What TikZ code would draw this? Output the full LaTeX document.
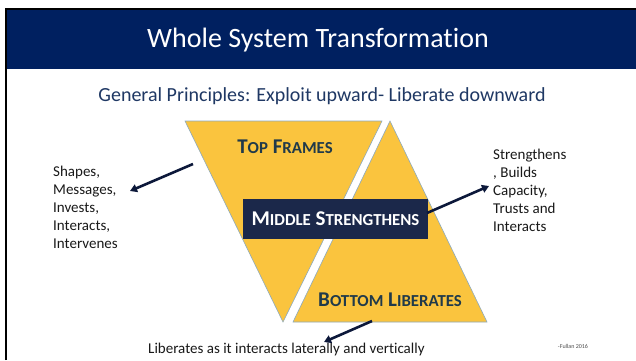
\documentclass[tikz,border=0pt]{standalone}
\usepackage{fontspec}
\setmainfont{Carlito}[Ligatures=CommonOff]
\usetikzlibrary{arrows.meta}

\definecolor{banner}{RGB}{0,32,96}
\definecolor{subblue}{RGB}{31,56,100}
\definecolor{gold}{RGB}{250,196,62}
\definecolor{goldedge}{RGB}{140,170,190}
\definecolor{boxnavy}{RGB}{27,40,74}
\definecolor{slate}{RGB}{32,58,74}
\definecolor{arrownavy}{RGB}{12,24,58}

% first letter full size, rest as reduced capitals
\newcommand{\capword}[2]{{\fontsize{21}{24}\selectfont #1}{\fontsize{16.8}{20}\selectfont #2}}

\tikzset{
  tri/.style={fill=gold, draw=goldedge, line width=0.6pt, line join=miter},
  label/.style={font=\fontsize{21}{24}\selectfont\bfseries, inner sep=0pt},
  sidetext/.style={font=\fontsize{15}{18}\selectfont, align=left, inner sep=0pt, text=black!90},
  pointer/.style={draw=arrownavy, line width=2.6pt, -{Triangle[length=7pt,width=8pt]}}
}

\begin{document}
\begin{tikzpicture}[x=1pt,y=-1pt]
\useasboundingbox (0,0) rectangle (636,360);
\fill[white] (0,0) rectangle (636,360);

% title banner with its dark frame line
\fill[banner] (6,9) rectangle (636,69);
\draw[black, line width=2pt] (6,360) -- (6,9) -- (636,9);
\node[text=white, font=\fontsize{28}{32}\selectfont, inner sep=0pt] (title) at (318,40) {Whole System Transformation};

\node[text=subblue, font=\fontsize{20}{23}\selectfont, inner sep=0pt] (subtitle) at (322,96) {General Principles: Exploit upward- Liberate downward};

% the two triangles
\draw[tri] (185,121) -- (382,121) -- (283,322) -- cycle;
\draw[tri] (390,121) -- (487,322) -- (293,322) -- cycle;

\node[label, text=slate] (top) at (285,147) {\capword{T}{OP} \capword{F}{RAMES}};
\node[label, text=slate] (bottom) at (390,300) {\capword{B}{OTTOM} \capword{L}{IBERATES}};

\node[fill=boxnavy, minimum width=185pt, minimum height=40pt, inner sep=0pt, text=white, label] (middle) at (335.5,219) {\capword{M}{IDDLE} \capword{S}{TRENGTHENS}};

% side descriptions
\node[sidetext, anchor=north west] (lefttext) at (53,166) {Shapes,\\Messages,\\Invests,\\Interacts,\\Intervenes};
\node[sidetext, anchor=north west] (righttext) at (493,149) {Strengthens\\, Builds\\Capacity,\\Trusts and\\Interacts};
\node[sidetext, anchor=west] (bottomtext) at (148,349) {Liberates as it interacts laterally and vertically};

\node[text=black!70, font=\fontsize{6}{7}\selectfont, inner sep=0pt] (credit) at (573,346) {-Fullan 2016};

% connectors
\coordinate (lstart) at (193,164);
\coordinate (lend) at (130,191);
\coordinate (rstart) at (427,213);
\coordinate (rend) at (489,186);
\coordinate (bstart) at (372,321);
\coordinate (bend) at (324,342);
\draw[pointer] (lstart) -- (lend);
\draw[pointer] (rstart) -- (rend);
\draw[pointer] (bstart) -- (bend);
\end{tikzpicture}
\end{document}
